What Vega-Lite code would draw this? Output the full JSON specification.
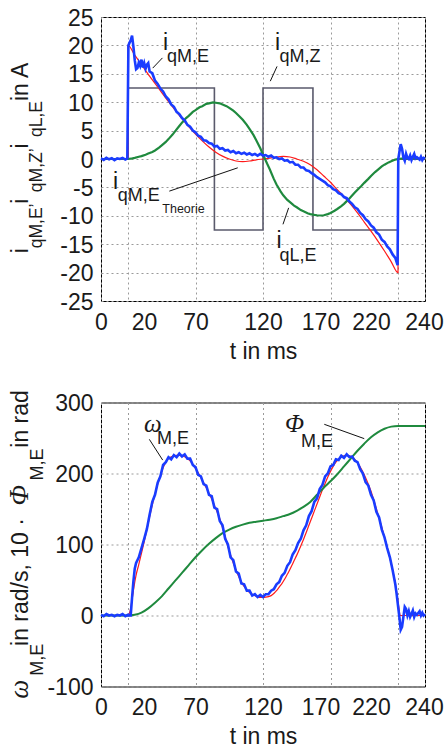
{
"$schema": "https://vega.github.io/schema/vega-lite/v6.json",
"background": "white",
"padding": {"left": 5, "top": 6, "right": 0, "bottom": 0},
"config": {
  "view": {"stroke": "#000000", "strokeWidth": 1},
  "font": "Liberation Sans",
  "axis": {"labelFont": "Liberation Sans", "labelFontSize": 23, "labelColor": "#1a1a1a", "titleFont": "Liberation Sans", "titleFontSize": 23, "titleFontWeight": "normal", "titleColor": "#1a1a1a", "grid": true, "gridColor": "#9a9a9a", "gridDash": [2, 3], "gridWidth": 1, "domain": false, "ticks": false}
},
"datasets": {
  "top": [
    {"s":"Z","t":0,"v":0},{"s":"Z","t":20,"v":0},{"s":"Z","t":20,"v":12.5},{"s":"Z","t":84,"v":12.5},{"s":"Z","t":84,"v":-12.5},{"s":"Z","t":120,"v":-12.5},{"s":"Z","t":120,"v":12.5},{"s":"Z","t":157,"v":12.5},{"s":"Z","t":157,"v":-12.5},{"s":"Z","t":220,"v":-12.5},{"s":"Z","t":220,"v":0},{"s":"Z","t":240,"v":0},
    {"s":"R","t":0,"v":0},{"s":"R","t":20,"v":0},{"s":"R","t":20,"v":20.0},{"s":"R","t":25,"v":18.3},{"s":"R","t":30,"v":16.6},{"s":"R","t":35,"v":14.9},{"s":"R","t":40,"v":13.3},{"s":"R","t":45,"v":11.7},{"s":"R","t":50,"v":10.1},{"s":"R","t":55,"v":8.6},{"s":"R","t":60,"v":7.1},{"s":"R","t":65,"v":5.7},{"s":"R","t":70,"v":4.4},{"s":"R","t":75,"v":3.2},{"s":"R","t":80,"v":2.1},{"s":"R","t":85,"v":1.2},{"s":"R","t":90,"v":0.5},{"s":"R","t":95,"v":0.0},{"s":"R","t":100,"v":-0.35},{"s":"R","t":105,"v":-0.45},{"s":"R","t":110,"v":-0.35},{"s":"R","t":115,"v":-0.15},{"s":"R","t":120,"v":0},{"s":"R","t":125,"v":0.15},{"s":"R","t":130,"v":0.35},{"s":"R","t":135,"v":0.45},{"s":"R","t":140,"v":0.35},{"s":"R","t":145,"v":0.0},{"s":"R","t":150,"v":-0.4},{"s":"R","t":155,"v":-1.0},{"s":"R","t":160,"v":-1.9},{"s":"R","t":165,"v":-3.0},{"s":"R","t":170,"v":-4.1},{"s":"R","t":175,"v":-5.4},{"s":"R","t":180,"v":-6.6},{"s":"R","t":185,"v":-8.0},{"s":"R","t":190,"v":-9.5},{"s":"R","t":195,"v":-11.1},{"s":"R","t":200,"v":-12.7},{"s":"R","t":205,"v":-14.4},{"s":"R","t":210,"v":-16.2},{"s":"R","t":215,"v":-18.1},{"s":"R","t":220,"v":-20.0},{"s":"R","t":220,"v":0},{"s":"R","t":240,"v":0},
    {"s":"L","t":0,"v":0},{"s":"L","t":20,"v":0},{"s":"L","t":22,"v":0.05},{"s":"L","t":25,"v":0.2},{"s":"L","t":28,"v":0.4},{"s":"L","t":30,"v":0.5},{"s":"L","t":33,"v":0.75},{"s":"L","t":35,"v":0.95},{"s":"L","t":38,"v":1.25},{"s":"L","t":40,"v":1.5},{"s":"L","t":43,"v":2.0},{"s":"L","t":45,"v":2.4},{"s":"L","t":48,"v":3.0},{"s":"L","t":50,"v":3.5},{"s":"L","t":53,"v":4.3},{"s":"L","t":55,"v":4.9},{"s":"L","t":58,"v":5.8},{"s":"L","t":60,"v":6.4},{"s":"L","t":63,"v":7.2},{"s":"L","t":65,"v":7.6},{"s":"L","t":68,"v":8.3},{"s":"L","t":70,"v":8.6},{"s":"L","t":73,"v":9.1},{"s":"L","t":75,"v":9.3},{"s":"L","t":78,"v":9.7},{"s":"L","t":80,"v":9.8},{"s":"L","t":83,"v":9.95},{"s":"L","t":85,"v":9.9},{"s":"L","t":88,"v":9.8},{"s":"L","t":90,"v":9.6},{"s":"L","t":93,"v":9.3},{"s":"L","t":95,"v":9.0},{"s":"L","t":98,"v":8.5},{"s":"L","t":100,"v":8.1},{"s":"L","t":103,"v":7.4},{"s":"L","t":105,"v":6.9},{"s":"L","t":108,"v":6.0},{"s":"L","t":110,"v":5.3},{"s":"L","t":113,"v":4.2},{"s":"L","t":115,"v":3.3},{"s":"L","t":118,"v":1.9},{"s":"L","t":120,"v":0.8},{"s":"L","t":123,"v":-0.8},{"s":"L","t":125,"v":-1.8},{"s":"L","t":128,"v":-3.5},{"s":"L","t":130,"v":-4.5},{"s":"L","t":133,"v":-5.7},{"s":"L","t":135,"v":-6.4},{"s":"L","t":138,"v":-7.2},{"s":"L","t":140,"v":-7.6},{"s":"L","t":143,"v":-8.2},{"s":"L","t":145,"v":-8.5},{"s":"L","t":148,"v":-9.0},{"s":"L","t":150,"v":-9.2},{"s":"L","t":153,"v":-9.55},{"s":"L","t":155,"v":-9.7},{"s":"L","t":158,"v":-9.85},{"s":"L","t":160,"v":-9.9},{"s":"L","t":163,"v":-9.95},{"s":"L","t":165,"v":-9.9},{"s":"L","t":168,"v":-9.7},{"s":"L","t":170,"v":-9.5},{"s":"L","t":173,"v":-9.1},{"s":"L","t":175,"v":-8.8},{"s":"L","t":178,"v":-8.3},{"s":"L","t":180,"v":-7.9},{"s":"L","t":183,"v":-7.2},{"s":"L","t":185,"v":-6.7},{"s":"L","t":188,"v":-5.9},{"s":"L","t":190,"v":-5.4},{"s":"L","t":193,"v":-4.7},{"s":"L","t":195,"v":-4.2},{"s":"L","t":198,"v":-3.5},{"s":"L","t":200,"v":-3.0},{"s":"L","t":203,"v":-2.3},{"s":"L","t":205,"v":-1.9},{"s":"L","t":208,"v":-1.3},{"s":"L","t":210,"v":-1.0},{"s":"L","t":213,"v":-0.6},{"s":"L","t":215,"v":-0.4},{"s":"L","t":218,"v":-0.1},{"s":"L","t":220,"v":0},{"s":"L","t":224,"v":0.1},{"s":"L","t":228,"v":0.0},{"s":"L","t":232,"v":0.1},{"s":"L","t":236,"v":0.0},{"s":"L","t":240,"v":0.1},
    {"s":"E","t":0,"v":0.1},{"s":"E","t":2,"v":-0.15},{"s":"E","t":4,"v":0.2},{"s":"E","t":6,"v":-0.05},{"s":"E","t":8,"v":0.15},{"s":"E","t":10,"v":-0.2},{"s":"E","t":12,"v":0.1},{"s":"E","t":14,"v":0.0},{"s":"E","t":16,"v":0.2},{"s":"E","t":18,"v":-0.1},{"s":"E","t":19.5,"v":0.1},{"s":"E","t":20.3,"v":20.0},{"s":"E","t":21,"v":20.4},{"s":"E","t":22,"v":20.9},{"s":"E","t":23,"v":21.7},{"s":"E","t":24,"v":19.8},{"s":"E","t":25,"v":17.4},{"s":"E","t":26,"v":15.8},{"s":"E","t":27,"v":16.0},{"s":"E","t":28,"v":17.0},{"s":"E","t":29,"v":16.4},{"s":"E","t":30,"v":17.5},{"s":"E","t":31,"v":16.1},{"s":"E","t":32,"v":16.9},{"s":"E","t":33,"v":15.9},{"s":"E","t":34,"v":16.6},{"s":"E","t":35,"v":16.9},{"s":"E","t":36,"v":15.4},{"s":"E","t":38,"v":15.1},{"s":"E","t":40,"v":13.8},{"s":"E","t":42,"v":13.2},{"s":"E","t":44,"v":12.4},{"s":"E","t":46,"v":11.9},{"s":"E","t":48,"v":11.0},{"s":"E","t":50,"v":10.5},{"s":"E","t":52,"v":9.6},{"s":"E","t":54,"v":9.2},{"s":"E","t":56,"v":8.3},{"s":"E","t":58,"v":7.9},{"s":"E","t":60,"v":7.2},{"s":"E","t":62,"v":6.8},{"s":"E","t":64,"v":6.0},{"s":"E","t":66,"v":5.7},{"s":"E","t":68,"v":5.0},{"s":"E","t":70,"v":4.7},{"s":"E","t":72,"v":4.1},{"s":"E","t":74,"v":3.9},{"s":"E","t":76,"v":3.3},{"s":"E","t":78,"v":3.2},{"s":"E","t":80,"v":2.8},{"s":"E","t":82,"v":2.7},{"s":"E","t":84,"v":2.2},{"s":"E","t":86,"v":2.3},{"s":"E","t":88,"v":1.8},{"s":"E","t":90,"v":1.9},{"s":"E","t":92,"v":1.5},{"s":"E","t":94,"v":1.6},{"s":"E","t":96,"v":1.2},{"s":"E","t":98,"v":1.4},{"s":"E","t":100,"v":1.0},{"s":"E","t":102,"v":1.2},{"s":"E","t":104,"v":0.9},{"s":"E","t":106,"v":1.1},{"s":"E","t":108,"v":0.8},{"s":"E","t":110,"v":1.0},{"s":"E","t":112,"v":0.7},{"s":"E","t":114,"v":0.9},{"s":"E","t":116,"v":0.6},{"s":"E","t":118,"v":0.9},{"s":"E","t":120,"v":0.6},{"s":"E","t":122,"v":0.7},{"s":"E","t":124,"v":0.4},{"s":"E","t":126,"v":0.6},{"s":"E","t":128,"v":0.2},{"s":"E","t":130,"v":0.3},{"s":"E","t":132,"v":0.0},{"s":"E","t":134,"v":0.1},{"s":"E","t":136,"v":-0.3},{"s":"E","t":138,"v":-0.2},{"s":"E","t":140,"v":-0.6},{"s":"E","t":142,"v":-0.5},{"s":"E","t":144,"v":-1.0},{"s":"E","t":146,"v":-1.0},{"s":"E","t":148,"v":-1.5},{"s":"E","t":150,"v":-1.5},{"s":"E","t":152,"v":-2.0},{"s":"E","t":154,"v":-2.1},{"s":"E","t":156,"v":-2.5},{"s":"E","t":158,"v":-2.8},{"s":"E","t":160,"v":-3.2},{"s":"E","t":162,"v":-3.5},{"s":"E","t":164,"v":-3.8},{"s":"E","t":166,"v":-4.1},{"s":"E","t":168,"v":-4.6},{"s":"E","t":170,"v":-4.8},{"s":"E","t":172,"v":-5.3},{"s":"E","t":174,"v":-5.5},{"s":"E","t":176,"v":-6.0},{"s":"E","t":178,"v":-6.2},{"s":"E","t":180,"v":-6.7},{"s":"E","t":182,"v":-6.9},{"s":"E","t":184,"v":-7.5},{"s":"E","t":186,"v":-7.9},{"s":"E","t":188,"v":-8.5},{"s":"E","t":190,"v":-8.8},{"s":"E","t":192,"v":-9.5},{"s":"E","t":194,"v":-9.9},{"s":"E","t":196,"v":-10.6},{"s":"E","t":198,"v":-11.0},{"s":"E","t":200,"v":-11.7},{"s":"E","t":202,"v":-12.1},{"s":"E","t":204,"v":-12.9},{"s":"E","t":206,"v":-13.3},{"s":"E","t":208,"v":-14.2},{"s":"E","t":210,"v":-14.6},{"s":"E","t":212,"v":-15.4},{"s":"E","t":214,"v":-15.9},{"s":"E","t":216,"v":-16.8},{"s":"E","t":218,"v":-17.4},{"s":"E","t":219.7,"v":-18.7},{"s":"E","t":220.2,"v":0.0},{"s":"E","t":221,"v":1.2},{"s":"E","t":222,"v":2.6},{"s":"E","t":223,"v":1.8},{"s":"E","t":224,"v":0.3},{"s":"E","t":225,"v":-0.3},{"s":"E","t":226,"v":0.9},{"s":"E","t":227,"v":0.2},{"s":"E","t":228,"v":0.0},{"s":"E","t":229,"v":0.6},{"s":"E","t":230,"v":-0.2},{"s":"E","t":231,"v":0.4},{"s":"E","t":232,"v":0.9},{"s":"E","t":233,"v":0.1},{"s":"E","t":234,"v":0.3},{"s":"E","t":236,"v":-0.1},{"s":"E","t":237,"v":0.4},{"s":"E","t":238,"v":-0.2},{"s":"E","t":239,"v":0.2},{"s":"E","t":240,"v":0.1}
  ],
  "atop": [
    {"k":"main","t":45.9,"v":19.25,"txt":"i"},{"k":"sub","t":48.9,"v":17.14,"txt":"qM,E"},
    {"k":"main","t":128.9,"v":19.25,"txt":"i"},{"k":"sub","t":132.2,"v":17.1,"txt":"qM,Z"},
    {"k":"main","t":8.8,"v":-5.36,"txt":"i"},{"k":"sub","t":12.4,"v":-7.42,"txt":"qM,E"},{"k":"tiny","t":45.4,"v":-9.46,"txt":"Theorie"},
    {"k":"main","t":130.0,"v":-15.6,"txt":"i"},{"k":"sub","t":132.2,"v":-17.97,"txt":"qL,E"},
    {"k":"rmain","t":-54.3,"v":-16.61,"txt":"i"},{"k":"rsub","t":-43.7,"v":-15.72,"txt":"qM,E’"},{"k":"rmain","t":-54.3,"v":-7.86,"txt":" i"},{"k":"rsub","t":-43.7,"v":-5.84,"txt":"qM,Z’"},{"k":"rmain","t":-54.3,"v":1.85,"txt":" i"},{"k":"rsub","t":-43.7,"v":3.87,"txt":"qL,E"},{"k":"rmain","t":-54.3,"v":10.2,"txt":" in A"}
  ],
  "ltop": [
    {"t":38.3,"v":16.0,"t2":45.5,"v2":17.8},
    {"t":125.4,"v":13.7,"t2":130.4,"v2":16.3},
    {"t":50.6,"v":-5.66,"t2":101.3,"v2":-1.55},
    {"t":134.8,"v":-11.5,"t2":139.0,"v2":-8.6}
  ],
  "bot": [
    {"s":"WR","t":0,"v":0},{"s":"WR","t":20,"v":0},{"s":"WR","t":21,"v":3},{"s":"WR","t":22,"v":10},{"s":"WR","t":23,"v":22},{"s":"WR","t":24,"v":35},{"s":"WR","t":25,"v":47},{"s":"WR","t":26,"v":57},{"s":"WR","t":28,"v":72},{"s":"WR","t":30,"v":88},{"s":"WR","t":32,"v":104},{"s":"WR","t":34,"v":121},{"s":"WR","t":36,"v":139},{"s":"WR","t":38,"v":156},{"s":"WR","t":40,"v":171},{"s":"WR","t":42,"v":185},{"s":"WR","t":44,"v":197},{"s":"WR","t":46,"v":208},{"s":"WR","t":48,"v":216},{"s":"WR","t":50,"v":221},{"s":"WR","t":52,"v":223.5},{"s":"WR","t":54,"v":225},{"s":"WR","t":56,"v":225.5},{"s":"WR","t":58,"v":225.5},{"s":"WR","t":60,"v":225},{"s":"WR","t":62,"v":223.5},{"s":"WR","t":64,"v":221},{"s":"WR","t":66,"v":218},{"s":"WR","t":68,"v":213},{"s":"WR","t":70,"v":207},{"s":"WR","t":72,"v":201},{"s":"WR","t":74,"v":194},{"s":"WR","t":76,"v":187},{"s":"WR","t":78,"v":180},{"s":"WR","t":80,"v":172},{"s":"WR","t":82,"v":164},{"s":"WR","t":84,"v":155},{"s":"WR","t":86,"v":146},{"s":"WR","t":88,"v":136},{"s":"WR","t":90,"v":124},{"s":"WR","t":92,"v":111},{"s":"WR","t":94,"v":97},{"s":"WR","t":96,"v":85},{"s":"WR","t":98,"v":74},{"s":"WR","t":100,"v":64},{"s":"WR","t":102,"v":55},{"s":"WR","t":104,"v":47},{"s":"WR","t":106,"v":41},{"s":"WR","t":108,"v":36},{"s":"WR","t":110,"v":32.5},{"s":"WR","t":112,"v":30},{"s":"WR","t":114,"v":28},{"s":"WR","t":116,"v":26.5},{"s":"WR","t":118,"v":25.5},{"s":"WR","t":120,"v":25.5},{"s":"WR","t":122,"v":25.8},{"s":"WR","t":124,"v":26.5},{"s":"WR","t":126,"v":28},{"s":"WR","t":128,"v":31},{"s":"WR","t":130,"v":35},{"s":"WR","t":132,"v":40},{"s":"WR","t":134,"v":45},{"s":"WR","t":136,"v":51},{"s":"WR","t":138,"v":58},{"s":"WR","t":140,"v":65},{"s":"WR","t":142,"v":73},{"s":"WR","t":144,"v":81},{"s":"WR","t":146,"v":89},{"s":"WR","t":148,"v":98},{"s":"WR","t":150,"v":107},{"s":"WR","t":152,"v":117},{"s":"WR","t":154,"v":127},{"s":"WR","t":156,"v":137},{"s":"WR","t":158,"v":147},{"s":"WR","t":160,"v":157},{"s":"WR","t":162,"v":167},{"s":"WR","t":164,"v":177},{"s":"WR","t":166,"v":186},{"s":"WR","t":168,"v":195},{"s":"WR","t":170,"v":203},{"s":"WR","t":172,"v":210},{"s":"WR","t":174,"v":216},{"s":"WR","t":176,"v":220},{"s":"WR","t":178,"v":223},{"s":"WR","t":180,"v":225},{"s":"WR","t":182,"v":225.5},{"s":"WR","t":184,"v":225},{"s":"WR","t":186,"v":223},{"s":"WR","t":188,"v":220},{"s":"WR","t":190,"v":215},{"s":"WR","t":192,"v":209},{"s":"WR","t":194,"v":202},{"s":"WR","t":196,"v":194},{"s":"WR","t":198,"v":185},{"s":"WR","t":200,"v":175},{"s":"WR","t":202,"v":163},{"s":"WR","t":204,"v":150},{"s":"WR","t":206,"v":137},{"s":"WR","t":208,"v":124},{"s":"WR","t":210,"v":110},{"s":"WR","t":212,"v":96},{"s":"WR","t":214,"v":81},{"s":"WR","t":216,"v":64},{"s":"WR","t":218,"v":45},{"s":"WR","t":219,"v":33},{"s":"WR","t":220,"v":20},{"s":"WR","t":221,"v":6},{"s":"WR","t":221.5,"v":0},{"s":"WR","t":240,"v":0},
    {"s":"P","t":0,"v":0},{"s":"P","t":20,"v":0},{"s":"P","t":25,"v":1},{"s":"P","t":30,"v":4},{"s":"P","t":35,"v":10},{"s":"P","t":40,"v":18},{"s":"P","t":45,"v":27},{"s":"P","t":50,"v":38},{"s":"P","t":55,"v":49},{"s":"P","t":60,"v":60},{"s":"P","t":65,"v":71},{"s":"P","t":70,"v":82},{"s":"P","t":75,"v":92},{"s":"P","t":80,"v":101},{"s":"P","t":85,"v":109},{"s":"P","t":90,"v":116},{"s":"P","t":95,"v":121},{"s":"P","t":100,"v":125},{"s":"P","t":105,"v":128},{"s":"P","t":110,"v":130.5},{"s":"P","t":115,"v":132},{"s":"P","t":120,"v":133.5},{"s":"P","t":125,"v":135},{"s":"P","t":130,"v":137},{"s":"P","t":135,"v":140},{"s":"P","t":140,"v":143},{"s":"P","t":145,"v":147.5},{"s":"P","t":150,"v":153},{"s":"P","t":155,"v":160},{"s":"P","t":160,"v":170},{"s":"P","t":165,"v":180},{"s":"P","t":170,"v":189},{"s":"P","t":175,"v":199},{"s":"P","t":180,"v":210},{"s":"P","t":185,"v":221},{"s":"P","t":190,"v":232},{"s":"P","t":195,"v":242},{"s":"P","t":200,"v":251},{"s":"P","t":205,"v":258},{"s":"P","t":210,"v":263},{"s":"P","t":215,"v":266},{"s":"P","t":220,"v":267},{"s":"P","t":225,"v":267},{"s":"P","t":240,"v":267},
    {"s":"W","t":0,"v":1},{"s":"W","t":2,"v":-1},{"s":"W","t":4,"v":2},{"s":"W","t":6,"v":0},{"s":"W","t":8,"v":1},{"s":"W","t":10,"v":-1},{"s":"W","t":12,"v":1},{"s":"W","t":14,"v":0},{"s":"W","t":16,"v":2},{"s":"W","t":18,"v":-1},{"s":"W","t":20,"v":1},{"s":"W","t":21,"v":0},{"s":"W","t":22,"v":0},{"s":"W","t":23,"v":25},{"s":"W","t":24,"v":48},{"s":"W","t":25,"v":66},{"s":"W","t":26,"v":74},{"s":"W","t":28,"v":82},{"s":"W","t":30,"v":95},{"s":"W","t":32,"v":108},{"s":"W","t":34,"v":122},{"s":"W","t":36,"v":142},{"s":"W","t":38,"v":160},{"s":"W","t":40,"v":170},{"s":"W","t":42,"v":187},{"s":"W","t":44,"v":196},{"s":"W","t":46,"v":212},{"s":"W","t":48,"v":216},{"s":"W","t":50,"v":223},{"s":"W","t":52,"v":220},{"s":"W","t":54,"v":226},{"s":"W","t":56,"v":223},{"s":"W","t":58,"v":228},{"s":"W","t":60,"v":224},{"s":"W","t":62,"v":227},{"s":"W","t":64,"v":221},{"s":"W","t":66,"v":221},{"s":"W","t":68,"v":212},{"s":"W","t":70,"v":209},{"s":"W","t":72,"v":198},{"s":"W","t":74,"v":196},{"s":"W","t":76,"v":185},{"s":"W","t":78,"v":183},{"s":"W","t":80,"v":170},{"s":"W","t":82,"v":168},{"s":"W","t":84,"v":152},{"s":"W","t":86,"v":150},{"s":"W","t":88,"v":133},{"s":"W","t":90,"v":127},{"s":"W","t":92,"v":108},{"s":"W","t":94,"v":100},{"s":"W","t":96,"v":82},{"s":"W","t":98,"v":78},{"s":"W","t":100,"v":62},{"s":"W","t":102,"v":59},{"s":"W","t":104,"v":45},{"s":"W","t":106,"v":44},{"s":"W","t":108,"v":35},{"s":"W","t":110,"v":35},{"s":"W","t":112,"v":28},{"s":"W","t":114,"v":30},{"s":"W","t":116,"v":26},{"s":"W","t":118,"v":29},{"s":"W","t":120,"v":26},{"s":"W","t":122,"v":30},{"s":"W","t":124,"v":30},{"s":"W","t":126,"v":35},{"s":"W","t":128,"v":37},{"s":"W","t":130,"v":44},{"s":"W","t":132,"v":47},{"s":"W","t":134,"v":56},{"s":"W","t":136,"v":60},{"s":"W","t":138,"v":70},{"s":"W","t":140,"v":75},{"s":"W","t":142,"v":86},{"s":"W","t":144,"v":92},{"s":"W","t":146,"v":102},{"s":"W","t":148,"v":108},{"s":"W","t":150,"v":120},{"s":"W","t":152,"v":127},{"s":"W","t":154,"v":140},{"s":"W","t":156,"v":147},{"s":"W","t":158,"v":160},{"s":"W","t":160,"v":165},{"s":"W","t":162,"v":178},{"s":"W","t":164,"v":184},{"s":"W","t":166,"v":196},{"s":"W","t":168,"v":200},{"s":"W","t":170,"v":210},{"s":"W","t":172,"v":212},{"s":"W","t":174,"v":220},{"s":"W","t":176,"v":219},{"s":"W","t":178,"v":225},{"s":"W","t":180,"v":222},{"s":"W","t":182,"v":227},{"s":"W","t":184,"v":223},{"s":"W","t":186,"v":224},{"s":"W","t":188,"v":218},{"s":"W","t":190,"v":216},{"s":"W","t":192,"v":206},{"s":"W","t":194,"v":200},{"s":"W","t":196,"v":188},{"s":"W","t":198,"v":183},{"s":"W","t":200,"v":170},{"s":"W","t":202,"v":162},{"s":"W","t":204,"v":146},{"s":"W","t":206,"v":138},{"s":"W","t":208,"v":121},{"s":"W","t":210,"v":110},{"s":"W","t":212,"v":95},{"s":"W","t":214,"v":82},{"s":"W","t":216,"v":64},{"s":"W","t":218,"v":44},{"s":"W","t":219,"v":30},{"s":"W","t":220,"v":14},{"s":"W","t":221,"v":-2},{"s":"W","t":222,"v":-20},{"s":"W","t":223,"v":-16},{"s":"W","t":224,"v":-2},{"s":"W","t":225,"v":12},{"s":"W","t":226,"v":9},{"s":"W","t":227,"v":0},{"s":"W","t":228,"v":6},{"s":"W","t":229,"v":-2},{"s":"W","t":230,"v":2},{"s":"W","t":231,"v":7},{"s":"W","t":232,"v":-2},{"s":"W","t":233,"v":3},{"s":"W","t":234,"v":1},{"s":"W","t":236,"v":6},{"s":"W","t":237,"v":0},{"s":"W","t":238,"v":4},{"s":"W","t":239,"v":0},{"s":"W","t":240,"v":2}
  ],
  "abot": [
    {"k":"gk","t":31.9,"v":258,"txt":"ω"},{"k":"sub","t":41.5,"v":241.1,"txt":"M,E"},
    {"k":"gk","t":136.3,"v":258,"txt":"Φ"},{"k":"sub","t":148.1,"v":236.8,"txt":"M,E"},
    {"k":"rgk","t":-54.1,"v":-117.4,"txt":"ω"},{"k":"rsub","t":-43.0,"v":-85.0,"txt":"M,E"},{"k":"rmain","t":-54.1,"v":-42.9,"txt":" in rad/s, 10 · "},{"k":"rgk","t":-54.1,"v":155.0,"txt":"Φ"},{"k":"rsub","t":-43.0,"v":190.3,"txt":"M,E"},{"k":"rmain","t":-54.1,"v":236.3,"txt":" in rad"}
  ],
  "lbot": [
    {"t":35.8,"v":248.1,"t2":45.7,"v2":218.9},
    {"t":165.4,"v":269.3,"t2":195,"v2":249.1}
  ]
},
"spacing": 101.5,
"bounds": "flush",
"vconcat": [
  {
    "width": 324, "height": 284,
    "encoding": {
      "x": {"field": "t", "type": "quantitative", "scale": {"domain": [0, 240], "nice": false, "zero": false},
            "axis": {"values": [0, 20, 70, 120, 170, 220, 240], "title": "t in ms", "labelPadding": 10, "titlePadding": 6, "labelFlush": false, "labelOverlap": false,
                     "labelOffset": {"condition": [{"test": "datum.value === 20", "value": 16}, {"test": "datum.value === 170", "value": -10}, {"test": "datum.value === 220", "value": -27}, {"test": "datum.value === 240", "value": -1}], "value": 0}}},
      "y": {"field": "v", "type": "quantitative", "scale": {"domain": [-25, 25], "nice": false, "zero": false},
            "axis": {"values": [-25, -20, -15, -10, -5, 0, 5, 10, 15, 20, 25], "title": null, "labelPadding": 8, "labelOffset": 1, "labelExpr": "'' + datum.value"}}
    },
    "layer": [
      {"data": {"name": "top"}, "transform": [{"filter": "datum.s === 'Z'"}], "mark": {"type": "line", "color": "#5a5a6c", "strokeWidth": 1.6}, "encoding": {"order": {"value": null}}},
      {"data": {"name": "top"}, "transform": [{"filter": "datum.s === 'R'"}], "mark": {"type": "line", "color": "#ff1a1a", "strokeWidth": 1.2, "interpolate": "monotone"}, "encoding": {"order": {"value": null}}},
      {"data": {"name": "top"}, "transform": [{"filter": "datum.s === 'L'"}], "mark": {"type": "line", "color": "#1f8a3e", "strokeWidth": 2.2}, "encoding": {"order": {"value": null}}},
      {"data": {"name": "top"}, "transform": [{"filter": "datum.s === 'E'"}], "mark": {"type": "line", "color": "#1a3cff", "strokeWidth": 2.6}, "encoding": {"order": {"value": null}}},
      {"data": {"name": "ltop"}, "mark": {"type": "rule", "color": "#111111", "strokeWidth": 1}, "encoding": {"x2": {"field": "t2"}, "y2": {"field": "v2"}}},
      {"data": {"name": "atop"}, "transform": [{"filter": "datum.k === 'main'"}], "mark": {"type": "text", "align": "left", "baseline": "alphabetic", "fontSize": 23, "color": "#1a1a1a"}, "encoding": {"text": {"field": "txt"}}},
      {"data": {"name": "atop"}, "transform": [{"filter": "datum.k === 'sub'"}], "mark": {"type": "text", "align": "left", "baseline": "alphabetic", "fontSize": 18, "color": "#1a1a1a"}, "encoding": {"text": {"field": "txt"}}},
      {"data": {"name": "atop"}, "transform": [{"filter": "datum.k === 'tiny'"}], "mark": {"type": "text", "align": "left", "baseline": "alphabetic", "fontSize": 12.5, "color": "#1a1a1a"}, "encoding": {"text": {"field": "txt"}}},
      {"data": {"name": "atop"}, "transform": [{"filter": "datum.k === 'rmain'"}], "mark": {"type": "text", "align": "left", "baseline": "alphabetic", "angle": 270, "fontSize": 23, "color": "#1a1a1a"}, "encoding": {"text": {"field": "txt"}}},
      {"data": {"name": "atop"}, "transform": [{"filter": "datum.k === 'rsub'"}], "mark": {"type": "text", "align": "left", "baseline": "alphabetic", "angle": 270, "fontSize": 17.5, "color": "#1a1a1a"}, "encoding": {"text": {"field": "txt"}}}
    ]
  },
  {
    "width": 324, "height": 284,
    "encoding": {
      "x": {"field": "t", "type": "quantitative", "scale": {"domain": [0, 240], "nice": false, "zero": false},
            "axis": {"values": [0, 20, 70, 120, 170, 220, 240], "title": "t in ms", "labelPadding": 10, "titlePadding": 6, "labelFlush": false, "labelOverlap": false,
                     "labelOffset": {"condition": [{"test": "datum.value === 20", "value": 16}, {"test": "datum.value === 170", "value": -10}, {"test": "datum.value === 220", "value": -27}, {"test": "datum.value === 240", "value": -1}], "value": 0}}},
      "y": {"field": "v", "type": "quantitative", "scale": {"domain": [-100, 300], "nice": false, "zero": false},
            "axis": {"values": [-100, 0, 100, 200, 300], "title": null, "labelPadding": 8, "labelOffset": 1, "labelExpr": "'' + datum.value"}}
    },
    "layer": [
      {"data": {"name": "bot"}, "transform": [{"filter": "datum.s === 'WR'"}], "mark": {"type": "line", "color": "#ff1a1a", "strokeWidth": 1.2, "interpolate": "monotone"}, "encoding": {"order": {"value": null}}},
      {"data": {"name": "bot"}, "transform": [{"filter": "datum.s === 'P'"}], "mark": {"type": "line", "color": "#1f8a3e", "strokeWidth": 2, "interpolate": "monotone"}, "encoding": {"order": {"value": null}}},
      {"data": {"name": "bot"}, "transform": [{"filter": "datum.s === 'W'"}], "mark": {"type": "line", "color": "#1a3cff", "strokeWidth": 2.6}, "encoding": {"order": {"value": null}}},
      {"data": {"name": "lbot"}, "mark": {"type": "rule", "color": "#111111", "strokeWidth": 1}, "encoding": {"x2": {"field": "t2"}, "y2": {"field": "v2"}}},
      {"data": {"name": "abot"}, "transform": [{"filter": "datum.k === 'gk'"}], "mark": {"type": "text", "align": "left", "baseline": "alphabetic", "fontSize": 25, "font": "Liberation Serif", "fontStyle": "italic", "color": "#1a1a1a"}, "encoding": {"text": {"field": "txt"}}},
      {"data": {"name": "abot"}, "transform": [{"filter": "datum.k === 'sub'"}], "mark": {"type": "text", "align": "left", "baseline": "alphabetic", "fontSize": 18, "color": "#1a1a1a"}, "encoding": {"text": {"field": "txt"}}},
      {"data": {"name": "abot"}, "transform": [{"filter": "datum.k === 'rgk'"}], "mark": {"type": "text", "align": "left", "baseline": "alphabetic", "angle": 270, "fontSize": 27, "font": "Liberation Serif", "fontStyle": "italic", "color": "#1a1a1a"}, "encoding": {"text": {"field": "txt"}}},
      {"data": {"name": "abot"}, "transform": [{"filter": "datum.k === 'rmain'"}], "mark": {"type": "text", "align": "left", "baseline": "alphabetic", "angle": 270, "fontSize": 23, "color": "#1a1a1a"}, "encoding": {"text": {"field": "txt"}}},
      {"data": {"name": "abot"}, "transform": [{"filter": "datum.k === 'rsub'"}], "mark": {"type": "text", "align": "left", "baseline": "alphabetic", "angle": 270, "fontSize": 18, "color": "#1a1a1a"}, "encoding": {"text": {"field": "txt"}}}
    ]
  }
]
}
